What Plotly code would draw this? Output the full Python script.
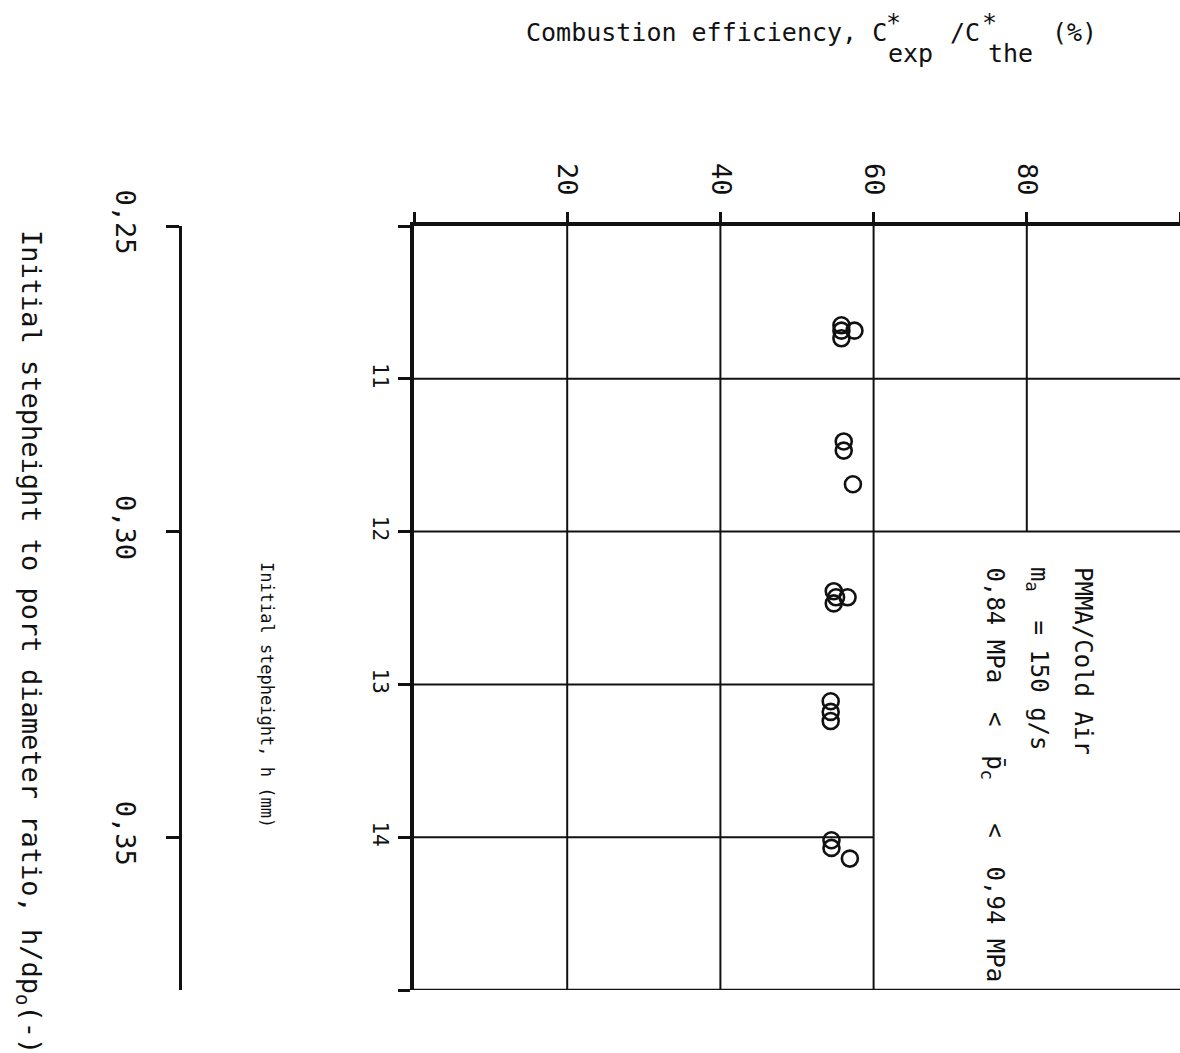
import plotly.graph_objects as go

# Combustion efficiency (%) against initial step height (mm), PMMA / cold air
efficiency = [55.8, 55.8, 55.8, 57.5,
              56.1, 56.1, 57.3,
              54.8, 55.1, 54.8, 56.6,
              54.4, 54.4, 54.4,
              54.5, 54.5, 56.9]
stepheight = [10.65, 10.685, 10.735, 10.685,
              11.41, 11.47, 11.69,
              12.39, 12.43, 12.47, 12.43,
              13.11, 13.18, 13.24,
              14.02, 14.07, 14.14]

# axis ticks
eff_ticks = [0, 20, 40, 60, 80, 100]
eff_labels = ["", "20", "40", "60", "80", ""]
h_ticks = [10, 11, 12, 13, 14, 15]
h_labels = ["", "11", "12", "13", "14", ""]
port_diameter = 40.0  # mm, h/dp_o = h / 40
ratio_ticks = [0.25, 0.30, 0.35]
ratio_labels = ["0,25", "0,30", "0,35"]

# grid segments: vertical lines run down to the given h, horizontal ones to the given efficiency
eff_grid = [20, 40, 60, 80]
eff_grid_end_h = [15, 15, 15, 12]
h_grid = [11, 12, 13, 14]
h_grid_end_eff = [100, 100, 60, 60]

W, H = 1180, 1053
PLOT_LEFT, PLOT_TOP, PLOT_BOTTOM = 414, 226, 990

def px_x(p):
    return p / W

def px_y(p):
    return (PLOT_BOTTOM - p) / (PLOT_BOTTOM - PLOT_TOP)

FONT = "DejaVu Sans Mono"
INK = "#111111"

fig = go.Figure()
fig.add_trace(go.Scatter(
    x=efficiency, y=stepheight, mode="markers",
    marker=dict(symbol="circle-open", size=16, color=INK, line=dict(width=2.6, color=INK)),
    showlegend=False, hoverinfo="x+y",
))
# carrier trace for the secondary h/dp_o axis
fig.add_trace(go.Scatter(x=[None], y=[None], yaxis="y2", showlegend=False, hoverinfo="skip"))

shapes = []
for e, hend in zip(eff_grid, eff_grid_end_h):
    shapes.append(dict(type="line", xref="x", yref="y", x0=e, x1=e, y0=10, y1=hend,
                       line=dict(color=INK, width=2)))
for hv, eend in zip(h_grid, h_grid_end_eff):
    shapes.append(dict(type="line", xref="x", yref="y", x0=0, x1=eend, y0=hv, y1=hv,
                       line=dict(color=INK, width=2)))
shapes.append(dict(type="line", xref="x", yref="y", x0=0, x1=100, y0=15, y1=15,
                   line=dict(color=INK, width=2.5)))


def label(text, x, y, size, angle=0, xanchor="center", yanchor="middle"):
    return dict(text=text, x=px_x(x), y=px_y(y), xref="paper", yref="paper",
                showarrow=False, textangle=angle, xanchor=xanchor, yanchor=yanchor,
                font=dict(family=FONT, size=size, color=INK))


TS = 25  # title font size
annotations = [
    # Combustion efficiency, C*exp / C*the (%), typed with full-size raised/lowered parts
    label("Combustion efficiency, C", 524, 32, TS, xanchor="left"),
    label("*", 884, 23, TS, xanchor="left"),
    label("exp", 886, 54, TS, xanchor="left"),
    label("/C", 948, 32, TS, xanchor="left"),
    label("*", 980, 23, TS, xanchor="left"),
    label("the", 986, 54, TS, xanchor="left"),
    label("(%)", 1050, 32, TS, xanchor="left"),
    label("Initial stepheight, h (mm)", 267, 695, 17, angle=90),
    label("Initial stepheight to port diameter ratio, h/dp<sub>o</sub>(-)", 30, 642, 27, angle=90),
    # test conditions
    label("PMMA/Cold Air", 1083, 565, 24, angle=90, yanchor="top"),
    label("m<sub>a</sub>  = 150 g/s", 1038, 565, 24, angle=90, yanchor="top"),
    label("0,84 MPa  &lt;  p\u0304<sub>c</sub>   &lt;  0,94 MPa", 993, 565, 24, angle=90, yanchor="top"),
]

fig.update_layout(
    width=W, height=H,
    margin=dict(l=0, r=0, t=PLOT_TOP, b=H - PLOT_BOTTOM, autoexpand=False),
    paper_bgcolor="white", plot_bgcolor="white",
    shapes=shapes, annotations=annotations,
    xaxis=dict(domain=[PLOT_LEFT / W, 1], range=[0, 100], side="top",
               tickvals=eff_ticks, ticktext=eff_labels,
               tickangle=90, ticks="outside", ticklen=10, tickwidth=2.5, tickcolor=INK,
               showline=True, linewidth=4, linecolor=INK, showgrid=False, zeroline=False,
               ticklabelstandoff=7, tickfont=dict(family=FONT, size=27, color=INK)),
    yaxis=dict(range=[15, 10], tickvals=h_ticks, ticktext=h_labels,
               tickangle=90, ticks="outside", ticklen=12, tickwidth=2.5, tickcolor=INK,
               showline=True, linewidth=4, linecolor=INK, showgrid=False, zeroline=False,
               ticklabelstandoff=0, tickfont=dict(family=FONT, size=21, color=INK)),
    yaxis2=dict(overlaying="y", anchor="free", position=180 / W, side="left",
                range=[15 / port_diameter, 10 / port_diameter],
                tickvals=ratio_ticks, ticktext=ratio_labels, tickangle=90,
                ticks="outside", ticklen=13, tickwidth=3, tickcolor=INK,
                showline=True, linewidth=3, linecolor=INK, showgrid=False, zeroline=False,
                ticklabelstandoff=18, tickfont=dict(family=FONT, size=27, color=INK)),
)

fig.write_html("out.html")
